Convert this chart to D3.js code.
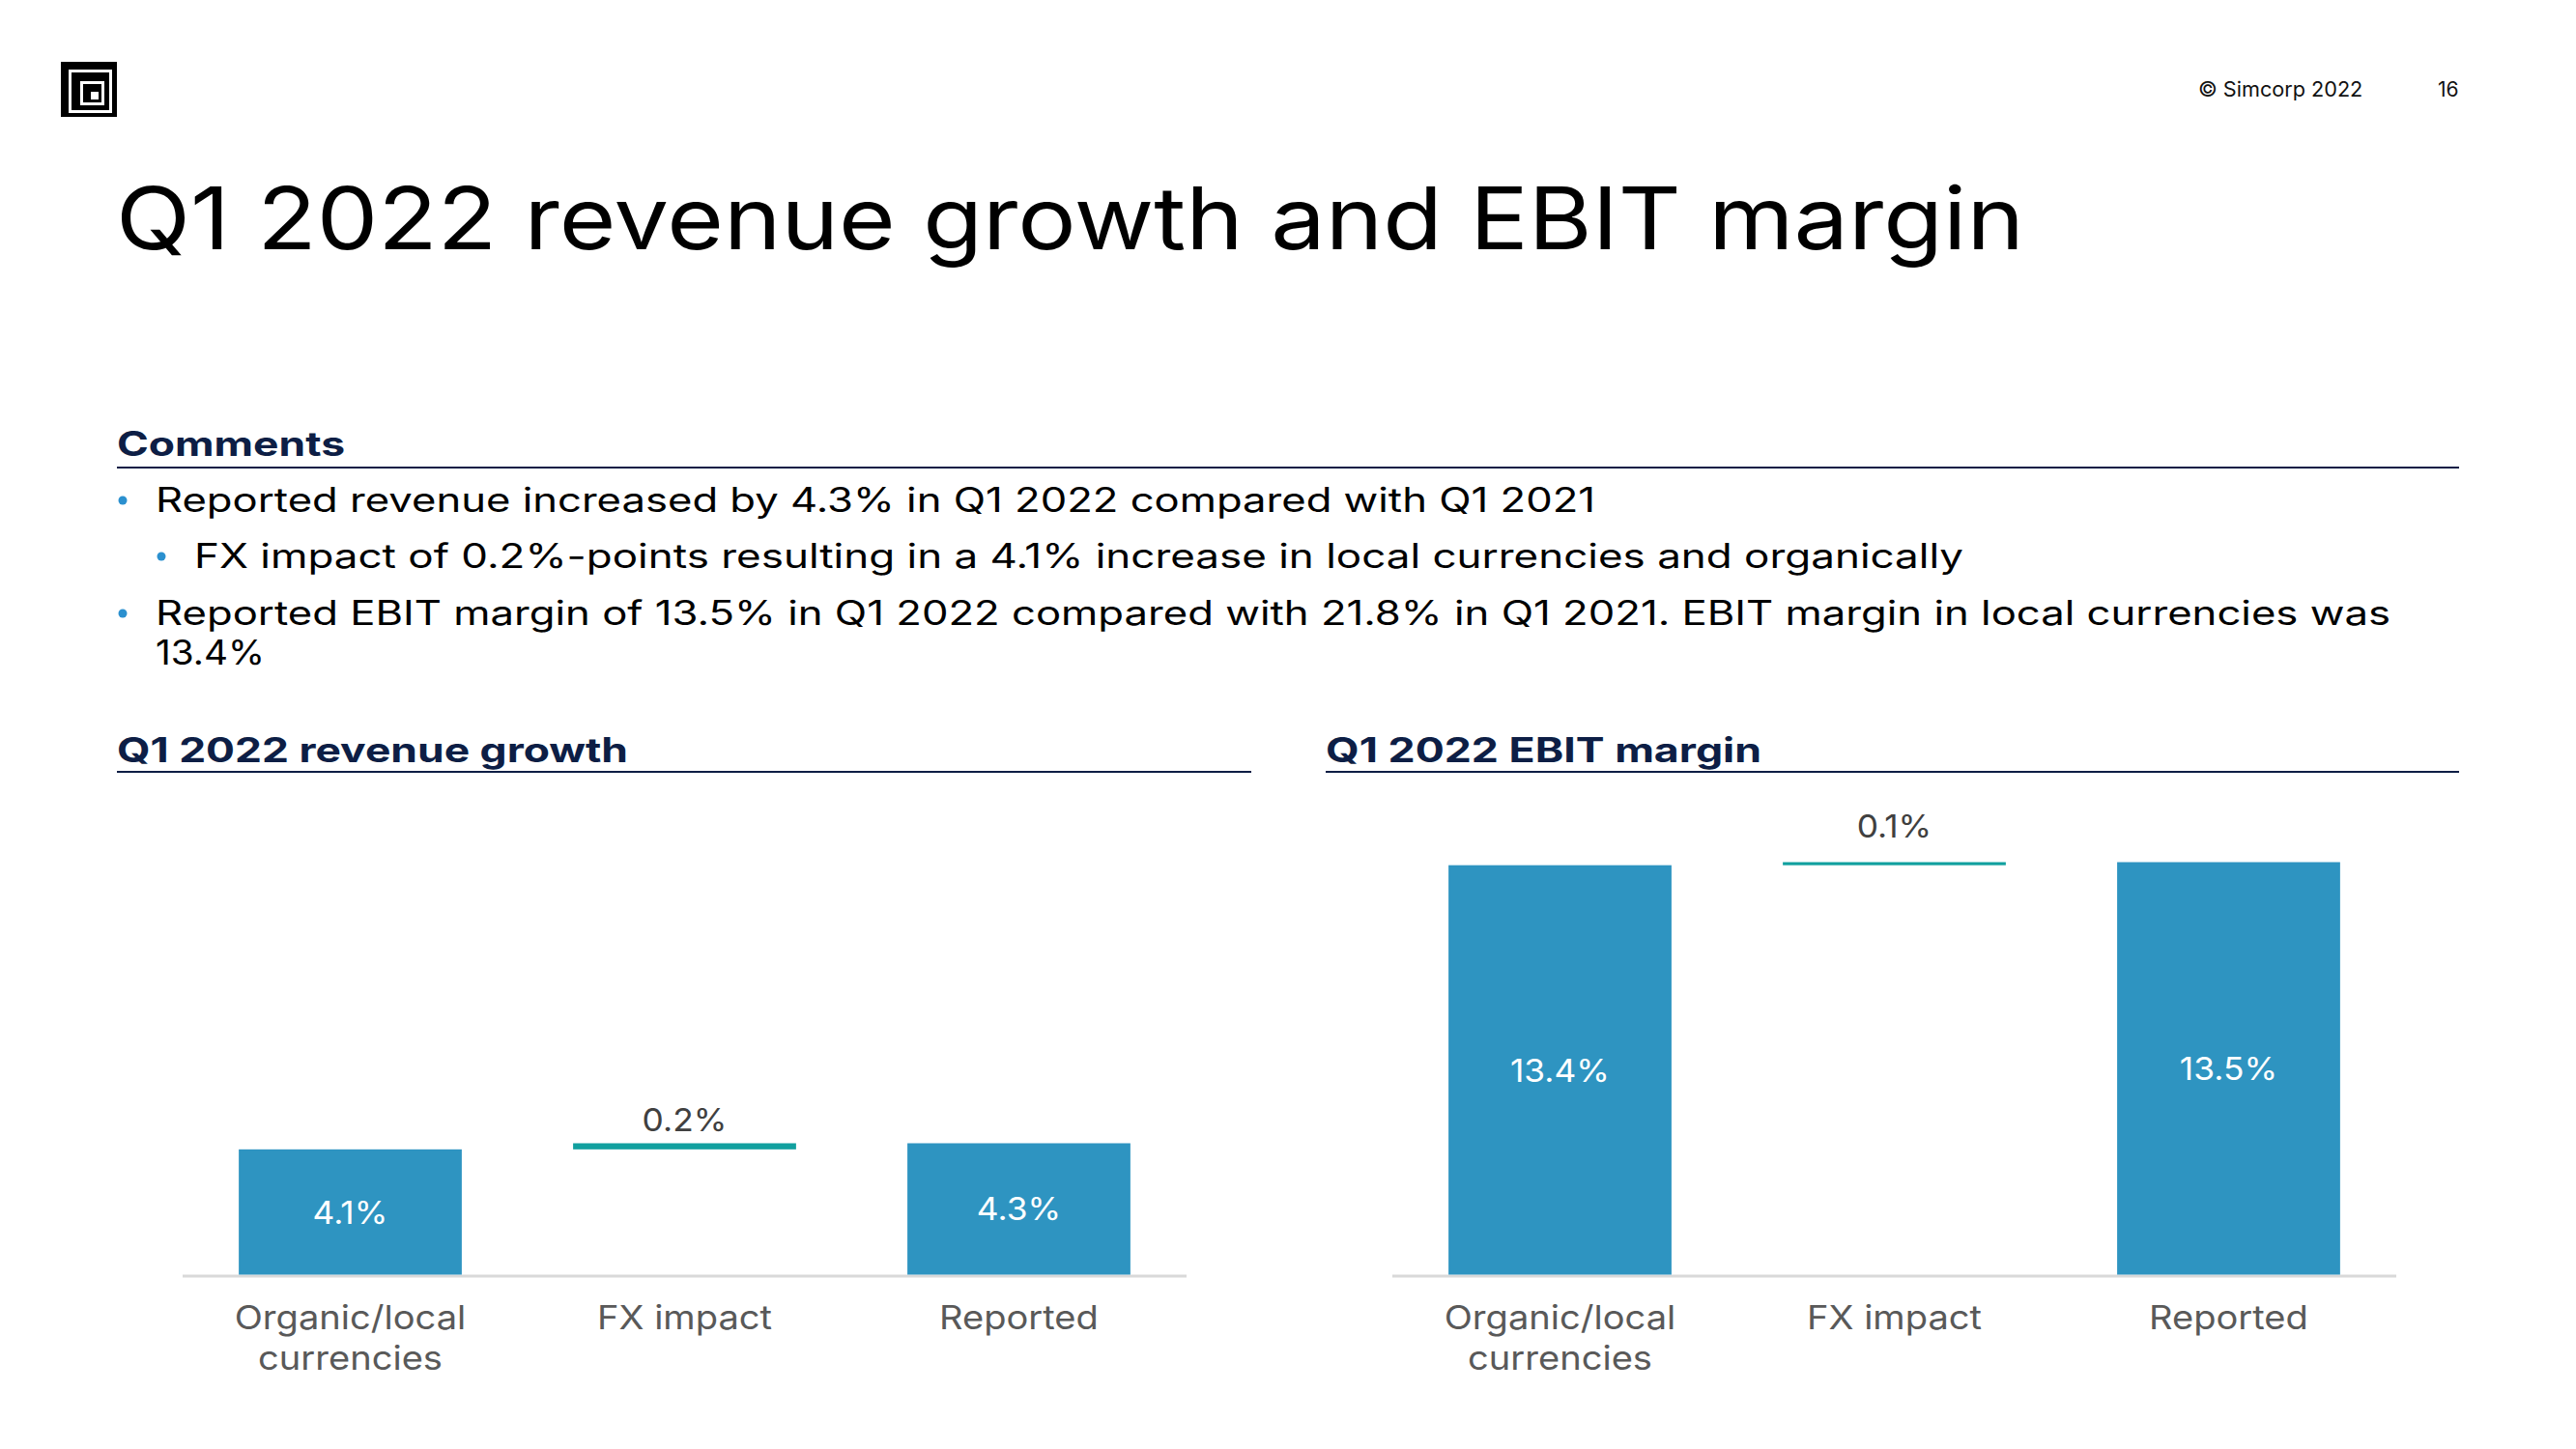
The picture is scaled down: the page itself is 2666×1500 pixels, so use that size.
<!DOCTYPE html>
<html>
<head>
<meta charset="utf-8">
<script src="https://cdn.jsdelivr.net/npm/d3@7"></script>
<style>
  html, body { margin: 0; padding: 0; background: #ffffff; }
  svg { display: block; }
  text { font-family: 'Inter', 'Liberation Sans', sans-serif; }
</style>
</head>
<body>
<script>
// ---------- data ----------
const categories = ["Organic/local currencies", "FX impact", "Reported"];
const categoryLines = [["Organic/local", "currencies"], ["FX impact"], ["Reported"]];
const revenueValues = [4.1, 0.2, 4.3];
const revenueLabels = ["4.1%", "0.2%", "4.3%"];
const ebitValues = [13.4, 0.1, 13.5];
const ebitLabels = ["13.4%", "0.1%", "13.5%"];
const titleText = "Q1 2022 revenue growth and EBIT margin";
const commentLines = [
  { level: 0, text: "Reported revenue increased by 4.3% in Q1 2022 compared with Q1 2021" },
  { level: 1, text: "FX impact of 0.2%-points resulting in a 4.1% increase in local currencies and organically" },
  { level: 0, text: "Reported EBIT margin of 13.5% in Q1 2022 compared with 21.8% in Q1 2021. EBIT margin in local currencies was" },
  { level: -1, text: "13.4%" }
];

// ---------- styles / layout ----------
const W = 2666, H = 1500;
const NAVY = "#0d1e45", BLUE = "#2e94c1", TEAL = "#11a09f", GRAY = "#595959", AXIS = "#d9d9d9";
const commentWidths = [1490, 1831, 2313, 113];
const commentYs = [530, 588, 647, 688];

const svg = d3.select("body").append("svg").attr("width", W).attr("height", H);
svg.append("rect").attr("width", W).attr("height", H).attr("fill", "#fff");

function fitTo(sel, width) {
  sel.attr("textLength", width).attr("lengthAdjust", "spacingAndGlyphs");
  return sel;
}
function stretch(sel, factor) {
  sel.each(function () {
    const w = this.getComputedTextLength();
    d3.select(this).attr("textLength", w * factor).attr("lengthAdjust", "spacingAndGlyphs");
  });
  return sel;
}

// logo
const logo = svg.append("g").attr("transform", "translate(63,64)");
[[0, 0, 58, 57, "#000"], [8, 8, 45, 45, "#fff"], [11, 11, 39, 39, "#000"],
 [20, 20, 25, 25, "#fff"], [23, 23, 19, 19, "#000"], [31, 31, 8, 8, "#fff"]]
  .forEach(r => logo.append("rect").attr("x", r[0]).attr("y", r[1]).attr("width", r[2]).attr("height", r[3]).attr("fill", r[4]));

// header small
stretch(svg.append("text").attr("x", 2275).attr("y", 100).attr("font-size", 21).attr("fill", "#111").text("© Simcorp 2022"), 1.03);
svg.append("text").attr("x", 2523).attr("y", 100).attr("font-size", 21).attr("fill", "#111").text("16");

// title
fitTo(svg.append("text").attr("x", 120).attr("y", 258).attr("font-size", 89).attr("fill", "#000").text(titleText), 1975);

// comments header
fitTo(svg.append("text").attr("x", 121).attr("y", 472).attr("font-size", 35).attr("font-weight", 700).attr("fill", NAVY).text("Comments"), 236);
svg.append("line").attr("x1", 121).attr("x2", 2545).attr("y1", 484).attr("y2", 484).attr("stroke", NAVY).attr("stroke-width", 2);

// bullets
commentLines.forEach((c, i) => {
  const tx = c.level === 1 ? 201 : 161;
  if (c.level >= 0) {
    const bx = c.level === 0 ? 127 : 167;
    svg.append("circle").attr("cx", bx).attr("cy", commentYs[i] - 12).attr("r", 4.5).attr("fill", "#2b90cf");
  }
  fitTo(svg.append("text").attr("x", tx).attr("y", commentYs[i]).attr("font-size", 35).attr("fill", "#000").text(c.text), commentWidths[i]);
});

// ---------- charts ----------
function drawChart(cfg) {
  const g = svg.append("g");
  fitTo(g.append("text").attr("x", cfg.headX).attr("y", 789).attr("font-size", 35).attr("font-weight", 700).attr("fill", NAVY).text(cfg.title), cfg.headW);
  g.append("line").attr("x1", cfg.headX).attr("x2", cfg.headX2).attr("y1", 799).attr("y2", 799).attr("stroke", NAVY).attr("stroke-width", 2);

  const x = d3.scaleBand().domain(categories).range([cfg.x0, cfg.x1]).paddingInner(0.333).paddingOuter(0.168);
  const y = d3.scaleLinear().domain([0, 15]).range([1319.5, 1319.5 - 15 * 31.63]);

  // waterfall extents
  const spans = cfg.values.map((v, i) => i === 1 ? [cfg.values[0], cfg.values[0] + v] : [0, v]);

  g.append("line").attr("x1", cfg.x0).attr("x2", cfg.x1).attr("y1", 1321).attr("y2", 1321).attr("stroke", AXIS).attr("stroke-width", 3);

  g.selectAll("rect.bar").data(spans).enter().append("rect")
    .attr("class", "bar")
    .attr("x", (d, i) => x(categories[i]))
    .attr("width", x.bandwidth())
    .attr("y", d => y(d[1]))
    .attr("height", d => y(d[0]) - y(d[1]))
    .attr("fill", (d, i) => i === 1 ? TEAL : BLUE);

  const vals = g.selectAll("text.val").data(spans).enter().append("text")
    .attr("class", "val")
    .attr("x", (d, i) => x(categories[i]) + x.bandwidth() / 2)
    .attr("y", (d, i) => i === 1 ? y(d[1]) - cfg.fxGap : (y(d[0]) + y(d[1])) / 2)
    .attr("dominant-baseline", (d, i) => i === 1 ? "auto" : "central")
    .attr("text-anchor", "middle")
    .attr("font-size", 33)
    .attr("fill", (d, i) => i === 1 ? "#404040" : "#fff")
    .text((d, i) => cfg.labels[i]);
  stretch(vals, 1.07);

  categoryLines.forEach((lines, i) => {
    lines.forEach((ln, j) => {
      stretch(g.append("text")
        .attr("x", x(categories[i]) + x.bandwidth() / 2)
        .attr("y", 1376 + j * 42)
        .attr("text-anchor", "middle")
        .attr("font-size", 34)
        .attr("fill", GRAY)
        .text(ln), 1.12);
    });
  });
}

drawChart({ title: "Q1 2022 revenue growth", headX: 121, headX2: 1295, headW: 529, x0: 189, x1: 1228, values: revenueValues, labels: revenueLabels, fxGap: 12 });
drawChart({ title: "Q1 2022 EBIT margin", headX: 1372, headX2: 2545, headW: 451, x0: 1441, x1: 2480, values: ebitValues, labels: ebitLabels, fxGap: 25 });
</script>
</body>
</html>
